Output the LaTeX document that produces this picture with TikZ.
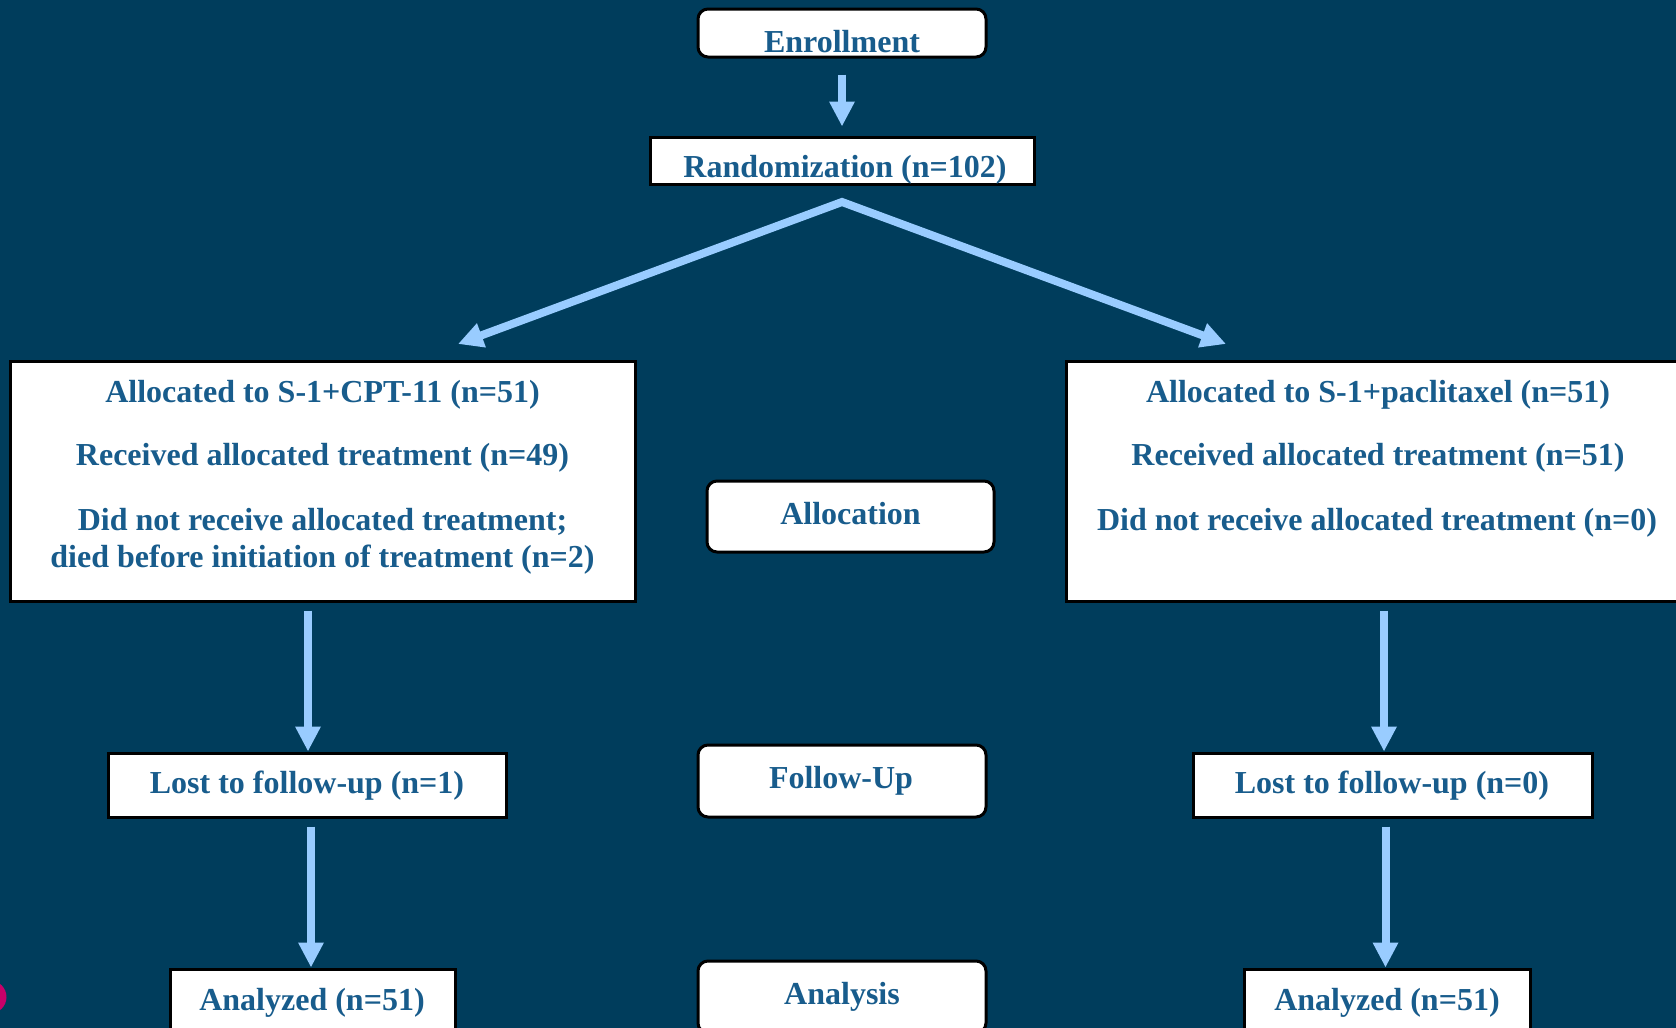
\documentclass[tikz,border=0pt]{standalone}
\usepackage{fontspec}
\setmainfont{Liberation Serif}
\usetikzlibrary{arrows.meta}
\definecolor{bg}{RGB}{0,61,92}
\definecolor{txt}{RGB}{24,92,140}
\definecolor{arrc}{RGB}{153,204,255}
\definecolor{dotc}{RGB}{200,0,105}
\begin{document}
\begin{tikzpicture}[x=1pt,y=-1pt,
  box/.style={draw=black, line width=3pt, fill=white, inner sep=0pt},
  rbox/.style={box, rounded corners=10pt},
  lbl/.style={text=txt, font=\fontsize{32}{38}\selectfont\bfseries, inner sep=0pt, anchor=base},
  flow/.style={draw=arrc, line width=8pt, -{Triangle[length=25pt,width=24pt]}},
  tipL/.style={{Triangle[length=25pt,width=24pt]}-{Triangle[length=25pt,width=24pt]}}]
\fill[bg] (0,0) rectangle (1676,1028);
\useasboundingbox (0,0) rectangle (1676,1028);

% decorative dot at the left edge
\fill[dotc] (-10,997) circle (16.5);

% boxes
\node[rbox, minimum width=288pt, minimum height=48pt] (enroll) at (842,33) {};
\node[box, minimum width=384pt, minimum height=47pt] (rand) at (842,160.5) {};
\node[box, minimum width=625pt, minimum height=240pt] (lalloc) at (322.5,481) {};
\node[box, minimum width=624pt, minimum height=240pt] (ralloc) at (1378,481) {};
\node[rbox, minimum width=287pt, minimum height=71pt] (alloc) at (850.5,516.5) {};
\node[box, minimum width=398pt, minimum height=64pt] (lostL) at (307,785) {};
\node[rbox, minimum width=288pt, minimum height=72pt] (follow) at (842,781) {};
\node[box, minimum width=399pt, minimum height=64pt] (lostR) at (1392.5,785) {};
\node[box, minimum width=285pt, minimum height=64pt] (analL) at (312.5,1001) {};
\node[rbox, minimum width=288pt, minimum height=72pt] (analysis) at (842,997) {};
\node[box, minimum width=286pt, minimum height=64pt] (analR) at (1387,1001) {};

% texts
\node[lbl] (tEnroll) at (842,52) {Enrollment};
\node[lbl] (tRand) at (845,177) {Randomization (n=102)};
\node[lbl] (tL1) at (322.5,402) {Allocated to S-1+CPT-11 (n=51)};
\node[lbl] (tL2) at (322.5,465) {Received allocated treatment (n=49)};
\node[lbl] (tL3) at (322.5,530) {Did not receive allocated treatment;};
\node[lbl] (tL4) at (322.5,567) {died before initiation of treatment (n=2)};
\node[lbl] (tR1) at (1378,402) {Allocated to S-1+paclitaxel (n=51)};
\node[lbl] (tR2) at (1378,465) {Received allocated treatment (n=51)};
\node[lbl] (tR3) at (1377,530) {Did not receive allocated treatment (n=0)};
\node[lbl] (tAlloc) at (850.5,524) {Allocation};
\node[lbl] (tLostL) at (307,793) {Lost to follow-up (n=1)};
\node[lbl] (tFollow) at (841,788) {Follow-Up};
\node[lbl] (tLostR) at (1392,793) {Lost to follow-up (n=0)};
\node[lbl] (tAnalL) at (312,1010) {Analyzed (n=51)};
\node[lbl] (tAnalysis) at (842,1004) {Analysis};
\node[lbl] (tAnalR) at (1387,1010) {Analyzed (n=51)};

% connectors
\draw[flow, shorten <=16pt, shorten >=9pt] (enroll.south) -- (rand.north);
\coordinate (split) at (842,202);
\coordinate (ltip) at (458,344);
\coordinate (rtip) at (1226,344);
\draw[flow, tipL, miter limit=20] (ltip) -- (split) -- (rtip);
\draw[flow, shorten <=8pt] ([xshift=1pt]lostL.north |- lalloc.south) -- ([xshift=1pt]lostL.north);
\draw[flow, shorten <=8pt] ([xshift=-8.5pt]lostR.north |- ralloc.south) -- ([xshift=-8.5pt]lostR.north);
\draw[flow, shorten <=8pt] ([xshift=-1.5pt]analL.north |- lostL.south) -- ([xshift=-1.5pt]analL.north);
\draw[flow, shorten <=8pt] ([xshift=-1.5pt]analR.north |- lostR.south) -- ([xshift=-1.5pt]analR.north);
\end{tikzpicture}
\end{document}
